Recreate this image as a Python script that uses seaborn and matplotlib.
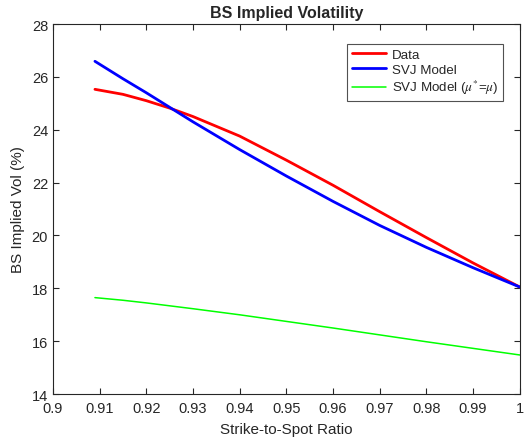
import pandas as pd
import seaborn as sns
import matplotlib.pyplot as plt

# values
strike = [0.909, 0.915, 0.92, 0.925, 0.93, 0.94, 0.95, 0.96, 0.97, 0.98, 0.99, 1.0]
data_vol = [25.53, 25.34, 25.10, 24.82, 24.50, 23.76, 22.85, 21.90, 20.90, 19.92, 18.96, 18.05]
svj_vol = [26.59, 25.93, 25.40, 24.85, 24.30, 23.25, 22.25, 21.29, 20.38, 19.55, 18.78, 18.05]
svj_mu_vol = [17.65, 17.55, 17.45, 17.34, 17.23, 17.00, 16.75, 16.50, 16.24, 15.98, 15.73, 15.48]

labels = ["Data", "SVJ Model", r"SVJ Model ($\mu^{*}$=$\mu$)"]
colors = ["#ff0000", "#0000ff", "#00ff00"]
widths = [2.0, 2.0, 1.1]

n = len(strike)
df = pd.DataFrame({
    "Strike": strike * 3,
    "Vol": data_vol + svj_vol + svj_mu_vol,
    "Series": [labels[0]] * n + [labels[1]] * n + [labels[2]] * n,
})

sns.set_style("ticks")
plt.rcParams["font.family"] = ["Liberation Sans", "DejaVu Sans"]
plt.rcParams["mathtext.fontset"] = "stix"

fig = plt.figure(figsize=(5.24, 4.39), dpi=100)
ax = fig.add_axes([0.101, 0.100, 0.891, 0.843])

for lab, col, lw in zip(labels, colors, widths):
    sns.lineplot(data=df[df["Series"] == lab], x="Strike", y="Vol",
                 color=col, linewidth=lw, label=lab, ax=ax)

ax.set_xlim(0.9, 1.0)
ax.set_ylim(14, 28)
ax.set_xticks([0.9 + 0.01 * i for i in range(11)])
ax.set_xticklabels(["0.9", "0.91", "0.92", "0.93", "0.94", "0.95", "0.96",
                    "0.97", "0.98", "0.99", "1"])
ax.set_yticks(range(14, 29, 2))

for s in ax.spines.values():
    s.set_visible(True)
    s.set_color("#262626")
    s.set_linewidth(0.8)
ax.tick_params(direction="in", top=True, right=True, length=4, width=0.8,
               colors="#262626", labelsize=10.5)
ax.tick_params(axis="x", pad=5)

ax.set_xlabel("Strike-to-Spot Ratio", fontsize=11, color="#262626", labelpad=5)
ax.set_ylabel("BS Implied Vol (%)", fontsize=11, color="#262626", labelpad=5)
ax.set_title("BS Implied Volatility", fontsize=11.5, fontweight="bold", pad=5)

leg = ax.legend(loc="upper right", bbox_to_anchor=(0.978, 0.965), fontsize=9.6,
                frameon=True, fancybox=False, handlelength=2.6,
                borderpad=0.35, labelspacing=0.2, handletextpad=0.4)
leg.get_frame().set_edgecolor("#262626")
leg.get_frame().set_linewidth(0.8)

plt.savefig("out.png", dpi=100)
